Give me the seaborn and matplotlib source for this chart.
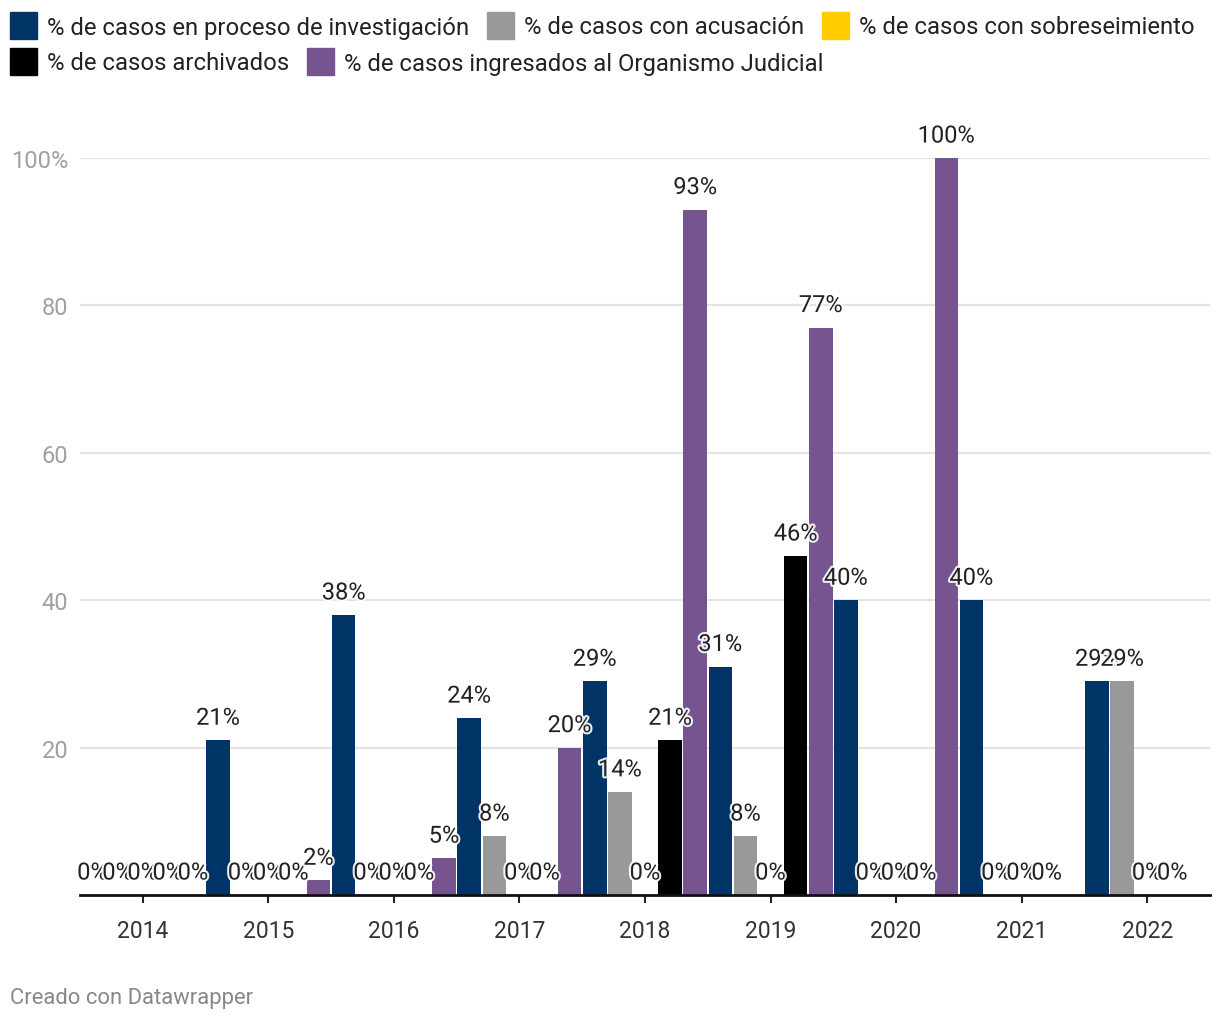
import numpy as np
import pandas as pd
import matplotlib
matplotlib.use('Agg')
import matplotlib.pyplot as plt
import matplotlib.patheffects as pe
from matplotlib.patches import Rectangle
import seaborn as sns

# Data
years = ['2014', '2015', '2016', '2017', '2018', '2019', '2020', '2021', '2022']
investigacion = [0, 21, 38, 24, 29, 31, 40, 40, 29]
acusacion = [0, 0, 0, 8, 14, 8, 0, 0, 29]
sobreseimiento = [0, 0, 0, 0, 0, 0, 0, 0, 0]
archivados = [0, 0, 0, 0, 21, 46, 0, 0, 0]
ingresados = [0, 2, 5, 20, 93, 77, 100, np.nan, np.nan]

series_names = [
    '% de casos en proceso de investigación',
    '% de casos con acusación',
    '% de casos con sobreseimiento',
    '% de casos archivados',
    '% de casos ingresados al Organismo Judicial',
]
series_values = [investigacion, acusacion, sobreseimiento, archivados, ingresados]
colors = ['#003366', '#999999', '#ffcc00', '#000000', '#755490']

rows = []
for name, vals in zip(series_names, series_values):
    for yr, v in zip(years, vals):
        rows.append({'year': yr, 'serie': name, 'valor': v})
df = pd.DataFrame(rows)

sns.set_theme(style='white')
plt.rcParams['font.family'] = ['Roboto', 'DejaVu Sans']

fig = plt.figure(figsize=(12.2, 10.2), dpi=100)
W, H = 1220, 1020
ax = fig.add_axes([80 / W, (H - 896) / H, 1130 / W, (896 - 159) / H])

sns.barplot(data=df, x='year', y='valor', hue='serie', hue_order=series_names,
            order=years, palette=colors, saturation=1, width=1.0, gap=0.06,
            linewidth=0, errorbar=None, legend=False, ax=ax)

ax.set_xlim(-0.5, 8.5)
ax.set_ylim(0, 100)
ax.set_xlabel('')
ax.set_ylabel('')

# gridlines and axis styling
ax.set_yticks([20, 40, 60, 80, 100])
ax.set_yticklabels(['20', '40', '60', '80', '100%'])
ax.yaxis.grid(True, color='#e3e3e3', linewidth=1.5)
ax.set_axisbelow(True)
ax.tick_params(axis='y', length=0, pad=8.5, labelsize=17, labelcolor='#a0a0a0')
ax.tick_params(axis='x', bottom=True, length=6, width=1.5, color='#222222',
               pad=11.5, labelsize=16.5, labelcolor='#333333')
for s in ['top', 'right', 'left']:
    ax.spines[s].set_visible(False)
ax.spines['bottom'].set_color('#111111')
ax.spines['bottom'].set_linewidth(2)

# value labels (soft white halo like the original)
n = len(series_names)
bw = 1.0 / n
halo = [pe.withStroke(linewidth=3, foreground='white', alpha=0.9)]
for i, vals in enumerate(series_values):
    for j, v in enumerate(vals):
        if np.isnan(v):
            continue
        x = j - 0.5 + bw * (i + 0.5)
        ax.annotate(f'{v:.0f}%', (x, v), xytext=(0, 22), textcoords='offset pixels',
                    ha='center', va='center', fontsize=17, color='#222222',
                    path_effects=halo, annotation_clip=False, zorder=5)

# legend drawn by hand in two rows
renderer = fig.canvas.get_renderer()
legend_rows = [[0, 1, 2], [3, 4]]
row_y = [26, 62]
for r, idxs in enumerate(legend_rows):
    x = 10
    yc = row_y[r]
    for i in idxs:
        fig.patches.append(Rectangle((x / W, (H - yc - 13.5) / H), 27 / W, 27 / H,
                                     transform=fig.transFigure, color=colors[i]))
        t = fig.text((x + 37) / W, (H - yc - 2) / H, series_names[i], ha='left',
                     va='center', fontsize=17.2, color='#222222')
        bb = t.get_window_extent(renderer)
        x = bb.x1 + 18

fig.text(10 / W, (H - 999) / H, 'Creado con Datawrapper', ha='left', va='center',
         fontsize=15.8, color='#888888')

fig.savefig('out.png', dpi=100)
